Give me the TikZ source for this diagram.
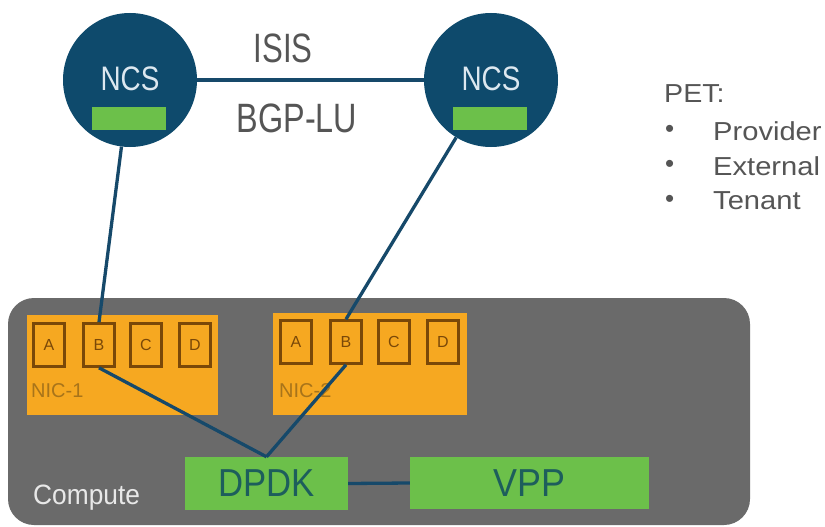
\documentclass[tikz,border=0pt]{standalone}
\usepackage{fontspec}
\usepackage{graphicx}
\setmainfont{Liberation Sans}
\definecolor{navy}{HTML}{0E4A6C}
\definecolor{wire}{HTML}{16496A}
\definecolor{cgray}{HTML}{6A6A6A}
\definecolor{orng}{HTML}{F6A821}
\definecolor{portb}{HTML}{7A4808}
\definecolor{grn}{HTML}{6CC04A}
\definecolor{grntxt}{HTML}{1D5E5C}
\definecolor{ncstxt}{HTML}{DCE8F0}
\definecolor{lbl}{HTML}{555555}
\definecolor{nictxt}{HTML}{A8741A}
\newcommand{\fs}[1]{\fontsize{#1}{#1}\selectfont}
\begin{document}
\begin{tikzpicture}[x=1pt,y=-1pt,
  ncscircle/.style={circle,fill=navy,minimum size=134pt,inner sep=0pt},
  ncsbar/.style={rectangle,fill=grn,minimum width=74pt,minimum height=23pt,inner sep=0pt},
  nicbox/.style={rectangle,fill=orng,anchor=north west,inner sep=0pt},
  port/.style={rectangle,draw=portb,line width=2.6pt,fill=orng,minimum width=31pt,minimum height=43pt,inner sep=0pt,text=portb,font=\fs{16}},
  greenbox/.style={rectangle,fill=grn,inner sep=0pt,text=grntxt},
  wireline/.style={draw=wire,line width=3.3pt},
  biglbl/.style={text=lbl,inner sep=0pt},
  pettxt/.style={text=lbl,inner sep=0pt,anchor=west,font=\fs{26}}
]
\useasboundingbox (0,0) rectangle (825,527);
\fill[white] (0,0) rectangle (825,527);

% compute area
\fill[cgray,rounded corners=26pt] (8,298) rectangle (750,525);
\node[text=white!82!gray,anchor=west,inner sep=0pt,font=\fs{28}] (compute) at (33,498) {\scalebox{0.94}[1]{Compute}};

% NICs
\node[nicbox,minimum width=191pt,minimum height=100pt] (nic1) at (27,315) {};
\node[nicbox,minimum width=194pt,minimum height=102pt] (nic2) at (273,313) {};
\node[text=nictxt,anchor=west,inner sep=0pt,font=\fs{20}] (nic1lbl) at (31,391) {NIC-1};
\node[text=nictxt,anchor=west,inner sep=0pt,font=\fs{20}] (nic2lbl) at (279,391) {NIC-2};

\node[port] (a1) at (49,345) {A};
\node[port] (b1) at (99,345) {B};
\node[port] (c1) at (146,345) {C};
\node[port] (d1) at (195,345) {D};
\node[port] (a2) at (296,342) {A};
\node[port] (b2) at (346,342) {B};
\node[port] (c2) at (394,342) {C};
\node[port] (d2) at (443,342) {D};

% NCS routers
\node[ncscircle] (ncs1) at (130,80) {};
\node[ncscircle] (ncs2) at (491,80) {};
\draw[wireline] (ncs1) -- (ncs2);
\node[text=ncstxt,inner sep=0pt,font=\fs{34}] (ncs1t) at (130,79) {\scalebox{0.82}[1]{NCS}};
\node[text=ncstxt,inner sep=0pt,font=\fs{34}] (ncs2t) at (491,79) {\scalebox{0.82}[1]{NCS}};
\node[ncsbar] (bar1) at (129,118) {};
\node[ncsbar] (bar2) at (490,118) {};

\node[biglbl,font=\fs{41}] (isis) at (283,48) {\scalebox{0.76}[1]{ISIS}};
\node[biglbl,font=\fs{41}] (bgplu) at (297,118) {\scalebox{0.79}[1]{BGP-LU}};

% DPDK / VPP
\node[greenbox,minimum width=163pt,minimum height=53pt,font=\fs{39}] (dpdk) at (266.5,483.5) {\scalebox{0.89}[1]{DPDK}};
\node[greenbox,minimum width=239pt,minimum height=52pt,font=\fs{39}] (vpp) at (529.5,483) {\scalebox{0.92}[1]{VPP}};

% wires
\draw[wireline] (ncs1) -- (b1.north);
\draw[wireline] (ncs2) -- (b2.north);
\draw[wireline] (b1.south) -- (dpdk.north);
\draw[wireline] (b2.south) -- (dpdk.north);
\draw[wireline] (dpdk.east) -- (vpp.west);

% PET legend
\node[pettxt] (pet) at (664,94) {\scalebox{1.1}[1]{PET:}};
\node[pettxt] (bul1) at (665,131) {\textbullet};
\node[pettxt] (bul2) at (665,166) {\textbullet};
\node[pettxt] (bul3) at (665,201) {\textbullet};
\node[pettxt] (prov) at (713,131) {\scalebox{1.12}[1]{Provider}};
\node[pettxt] (ext) at (713,166) {\scalebox{1.12}[1]{External}};
\node[pettxt] (ten) at (713,201) {\scalebox{1.12}[1]{Tenant}};
\end{tikzpicture}
\end{document}
